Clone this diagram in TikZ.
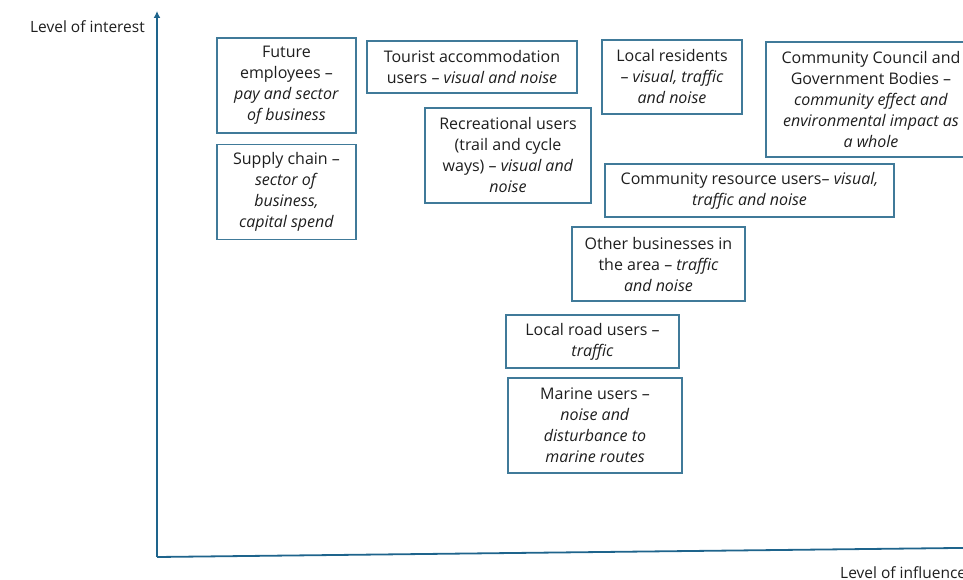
\documentclass[tikz,border=0pt]{standalone}
\usepackage{fontspec}
\setsansfont{Open Sans}
\usepackage{xcolor}
\usepackage{tikz}
\usetikzlibrary{
    arrows.meta,
    positioning
}
\definecolor{axisline}{RGB}{30,100,140}
\definecolor{boxedge}{RGB}{64,122,153}
\definecolor{textgray}{RGB}{30,30,30}
\tikzset{
    stakeholder/.style={
        rectangle,
        draw=boxedge,
        line width=1.2pt,
        align=center,
        inner sep=0pt,
        text=textgray,
        font=\sffamily\fontsize{16}{21}\selectfont
    },
    axis/.style={
        -{Latex[length=7pt,width=7pt]},
        draw=axisline,
        line width=1.8pt
    },
    axislabel/.style={
        text=textgray,
        inner sep=0pt,
        font=\sffamily\fontsize{15.5}{18}\selectfont
    }
}

\begin{document}
\begin{tikzpicture}[x=1pt, y=-1pt]
    \useasboundingbox (0,0) rectangle (963,580);

    % Axes
    \coordinate (origin) at (157,557);
    \coordinate (ytip) at (157,11);
    \coordinate (xtip) at (992,547.6);
    \draw[axis] (origin) -- (ytip);
    \draw[axis] (origin) -- (xtip);
    \node[axislabel, anchor=east] (ylabel) at (145,27) {Level of interest};
    \node[axislabel, anchor=west] (xlabel) at (840,573) {Level of influence};

    % Stakeholder groups
    \node[stakeholder, minimum width=139, minimum height=95] (future) at (286.5,85.5)
        {Future\\employees --\\\textit{pay and sector}\\\textit{of business}};
    \node[stakeholder, minimum width=139, minimum height=95, below=10pt of future] (supply)
        {Supply chain --\\\textit{sector of}\\\textit{business,}\\\textit{capital spend}};
    \node[stakeholder, minimum width=210, minimum height=52] (tourist) at (472,67)
        {Tourist accommodation\\users -- \textit{visual and noise}};
    \node[stakeholder, minimum width=166, minimum height=95] (recreation) at (508,155.5)
        {Recreational users\\(trail and cycle\\ways) -- \textit{visual and}\\\textit{noise}};
    \node[stakeholder, minimum width=140, minimum height=74] (residents) at (672,77)
        {Local residents\\-- \textit{visual, traffic}\\\textit{and noise}};
    \node[stakeholder, minimum width=210, minimum height=115] (council) at (871,99.5)
        {Community Council and\\Government Bodies --\\\textit{community effect and}\\\textit{environmental impact as}\\\textit{a whole}};
    \node[stakeholder, minimum width=289, minimum height=53] (resource) at (749.5,190.5)
        {Community resource users-- \textit{visual,}\\\textit{traffic and noise}};
    \node[stakeholder, minimum width=173, minimum height=74] (business) at (658.5,264)
        {Other businesses in\\the area -- \textit{traffic}\\\textit{and noise}};
    \node[stakeholder, minimum width=173, minimum height=53] (road) at (592.5,341.5)
        {Local road users --\\\textit{traffic}};
    \node[stakeholder, minimum width=174, minimum height=95] (marine) at (595,425.5)
        {Marine users --\\\textit{noise and}\\\textit{disturbance to}\\\textit{marine routes}};
\end{tikzpicture}
\end{document}
